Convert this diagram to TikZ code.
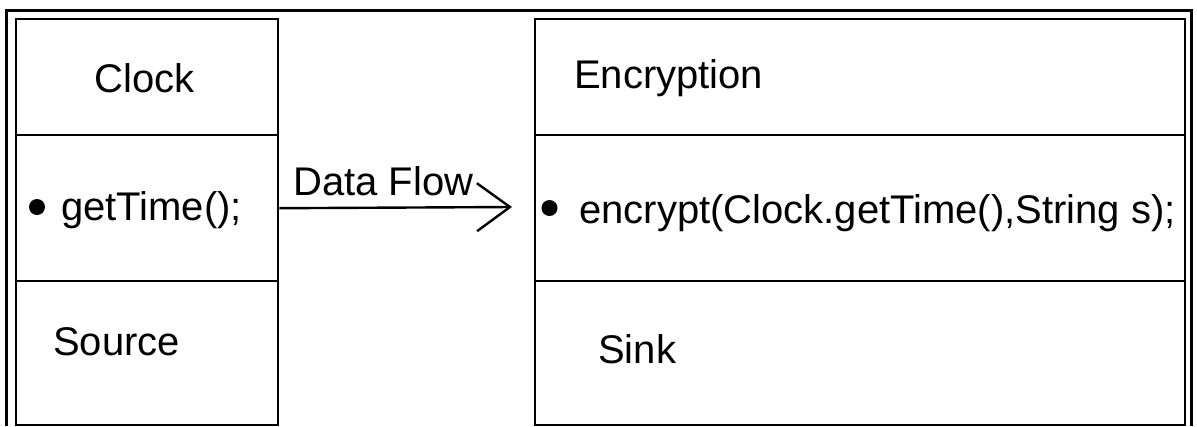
\documentclass[tikz,border=0pt]{standalone}
\usepackage{fontspec}
\setmainfont{Liberation Sans}
\usetikzlibrary{arrows.meta}
\begin{document}
\begin{tikzpicture}[x=1pt,y=-1pt,line width=2.4pt,font=\fontsize{40}{48}\selectfont,
    part/.style={draw,anchor=north west,inner sep=0pt,minimum width=#1},
    txt/.style={inner sep=0pt,anchor=base west},
    dot/.style={circle,fill,inner sep=0pt,minimum size=16pt}]
  \useasboundingbox (0,0) rectangle (1197,426);
  \draw[line width=3pt] (6.5,426) -- (6.5,10) -- (1191,10) -- (1191,426);
  % source class
  \node[part=262.5pt,minimum height=116pt] (clockname) at (14.5,18) {};
  \node[part=262.5pt,minimum height=146pt] (clockops) at (14.5,134) {};
  \node[part=262.5pt,minimum height=144pt] (clockrole) at (14.5,280) {};
  % sink class
  \node[part=650pt,minimum height=116pt] (encname) at (534,18) {};
  \node[part=650pt,minimum height=146pt] (encops) at (534,134) {};
  \node[part=650pt,minimum height=144pt] (encrole) at (534,280) {};
  % labels
  \node[inner sep=0pt,anchor=base] (clocklbl) at (145,92) {Clock};
  \node[dot] (clockdot) at (37,207) {};
  \node[txt] (gettime) at (60,220) {getTime();};
  \node[txt] (srclbl) at (52,355) {Source};
  \node[txt] (enclbl) at (573,88) {Encryption};
  \node[dot] (encdot) at (549.5,208) {};
  \node[txt] (encrypt) at (578,223) {encrypt(Clock.getTime(),String s);};
  \node[txt] (sinklbl) at (597,363) {Sink};
  % data flow
  \coordinate (flowend) at (512,207);
  \draw[-{Straight Barb[length=33pt,width=48pt]}] (clockops.east) -- (flowend);
  \node[txt] (flowlbl) at (292,195) {Data Flow};
\end{tikzpicture}
\end{document}
